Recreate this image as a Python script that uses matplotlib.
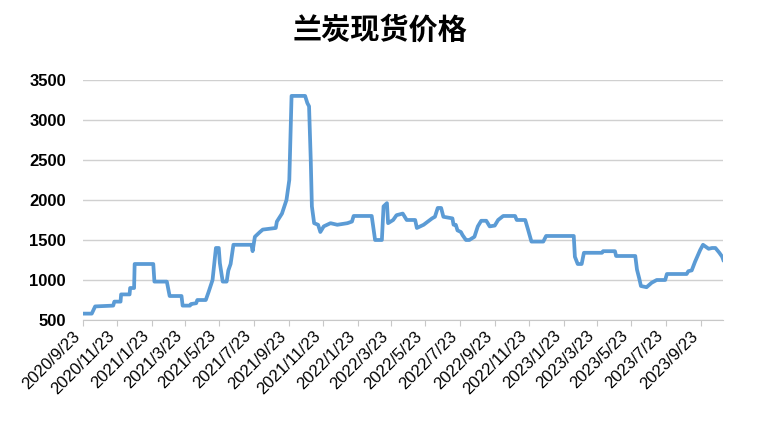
import matplotlib
matplotlib.use("Agg")
import matplotlib.pyplot as plt
import matplotlib.transforms as mtransforms
import pandas as pd

# price points (date, yuan/ton)
dates = [
    "2020-09-23", "2020-10-09", "2020-10-15", "2020-11-16", "2020-11-18", "2020-11-29",
    "2020-11-30", "2020-12-15", "2020-12-16", "2020-12-23", "2020-12-24", "2021-01-26",
    "2021-01-28", "2021-02-19", "2021-02-24", "2021-03-17", "2021-03-19", "2021-04-01",
    "2021-04-03", "2021-04-12", "2021-04-14", "2021-04-29", "2021-05-04", "2021-05-11",
    "2021-05-17", "2021-05-22", "2021-05-24", "2021-05-29", "2021-06-05", "2021-06-08",
    "2021-06-12", "2021-06-17", "2021-07-19", "2021-07-21", "2021-07-25", "2021-08-03",
    "2021-08-08", "2021-08-20", "2021-08-31", "2021-09-02", "2021-09-11", "2021-09-19",
    "2021-09-24", "2021-09-28", "2021-10-22", "2021-10-26", "2021-10-29", "2021-11-01",
    "2021-11-03", "2021-11-07", "2021-11-14", "2021-11-18", "2021-11-24", "2021-12-06",
    "2021-12-18", "2022-01-05", "2022-01-13", "2022-01-16", "2022-02-17", "2022-02-20",
    "2022-02-23", "2022-03-07", "2022-03-10", "2022-03-16", "2022-03-18", "2022-03-27",
    "2022-04-02", "2022-04-13", "2022-04-20", "2022-05-05", "2022-05-08", "2022-05-20",
    "2022-06-04", "2022-06-09", "2022-06-14", "2022-06-20", "2022-06-24", "2022-07-10",
    "2022-07-12", "2022-07-16", "2022-07-19", "2022-07-25", "2022-07-28", "2022-08-03",
    "2022-08-09", "2022-08-18", "2022-08-24",
    "2022-08-30", "2022-09-08", "2022-09-14", "2022-09-23", "2022-09-29", "2022-10-08",
    "2022-10-29", "2022-11-01", "2022-11-16", "2022-11-21", "2022-11-27", "2022-12-18",
    "2022-12-23", "2023-02-10", "2023-02-12", "2023-02-17", "2023-02-24", "2023-02-28",
    "2023-04-01", "2023-04-03", "2023-04-24", "2023-04-26", "2023-05-30", "2023-06-02",
    "2023-06-06", "2023-06-09", "2023-06-19", "2023-06-28", "2023-07-07", "2023-07-22",
    "2023-07-25", "2023-08-29", "2023-09-01", "2023-09-07", "2023-09-13", "2023-09-22",
    "2023-09-27", "2023-10-07", "2023-10-13", "2023-10-19", "2023-10-26", "2023-10-31",
    "2023-11-02",
]
prices = [
    580, 580, 670, 680, 730, 730,
    820, 820, 900, 900, 1200, 1200,
    980, 980, 800, 800, 680, 680,
    700, 710, 750, 750, 850, 1000,
    1400, 1400, 1210, 980, 980, 1120,
    1200, 1440, 1440, 1360, 1540, 1600,
    1630, 1640, 1650, 1730, 1830, 2000,
    2250, 3300, 3300, 3210, 3170, 2500,
    1920, 1710, 1690, 1600, 1670, 1710,
    1690, 1710, 1730, 1800, 1800, 1650,
    1500, 1500, 1920, 1960, 1710, 1750,
    1810, 1830, 1750, 1750, 1650, 1690,
    1770, 1790, 1900, 1900, 1790, 1770,
    1690, 1690, 1620, 1600, 1560, 1500,
    1500, 1540, 1670,
    1740, 1740, 1670, 1680, 1750, 1800,
    1800, 1750, 1750, 1630, 1480, 1480,
    1550, 1550, 1290, 1200, 1200, 1340,
    1340, 1360, 1360, 1300, 1300, 1130,
    1020, 925, 910, 966, 1000, 1000,
    1075, 1075, 1110, 1120, 1230, 1375,
    1440, 1390, 1400, 1400, 1340, 1290,
    1250,
]

tick_labels = [
    "2020/9/23", "2020/11/23", "2021/1/23", "2021/3/23", "2021/5/23", "2021/7/23",
    "2021/9/23", "2021/11/23", "2022/1/23", "2022/3/23", "2022/5/23", "2022/7/23",
    "2022/9/23", "2022/11/23", "2023/1/23", "2023/3/23", "2023/5/23", "2023/7/23",
    "2023/9/23",
]
y_ticks = [500, 1000, 1500, 2000, 2500, 3000, 3500]

x = pd.to_datetime(dates)
tick_dates = pd.to_datetime(tick_labels, format="%Y/%m/%d")

fig = plt.figure(figsize=(7.59, 4.25), dpi=100)
ax = fig.add_axes([0.109, 0.247, 0.844, 0.565])

ax.plot(x, prices, color="#5B9BD5", linewidth=2.7, solid_joinstyle="round")

ax.set_xlim(x[0], x[-1])
ax.set_ylim(500, 3500)
ax.set_yticks(y_ticks)
ax.set_yticklabels([str(v) for v in y_ticks], fontfamily="Liberation Sans",
                   fontweight="bold", fontsize=12)
ax.set_xticks(tick_dates)
ax.set_xticklabels(tick_labels, rotation=45, ha="right", fontfamily="Liberation Sans",
                   fontsize=12)

# nudge the rotated date labels a bit to the right, like the original
shift = mtransforms.ScaledTranslation(5 / 100, 0, fig.dpi_scale_trans)
for lbl in ax.get_xticklabels():
    lbl.set_transform(lbl.get_transform() + shift)

ax.grid(axis="y", color="#D0D0D0", linewidth=1)
ax.set_axisbelow(True)
for side in ["left", "right", "top"]:
    ax.spines[side].set_visible(False)
ax.spines["bottom"].set_color("#C8C8C8")
ax.tick_params(axis="y", length=0, pad=12)
ax.tick_params(axis="x", length=4, color="#C8C8C8", pad=2)

fig.suptitle("兰炭现货价格", x=0.5, y=0.965, fontsize=21, fontweight="bold",
             fontfamily=["Noto Sans CJK SC", "DejaVu Sans"])

fig.savefig("out.png", dpi=100)
